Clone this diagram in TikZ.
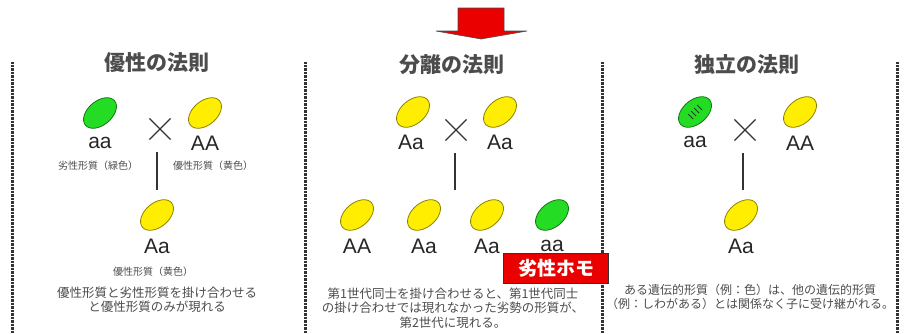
\documentclass[tikz,border=0pt]{standalone}
\usepackage{fontspec}
\setmainfont{Noto Sans CJK JP}
\setsansfont{Liberation Sans}
\usepackage{xcolor}
\usetikzlibrary{shapes.geometric, shapes.misc}

\definecolor{peagreen}{RGB}{35,220,35}
\definecolor{peagreenline}{RGB}{20,120,20}
\definecolor{peayellow}{RGB}{255,238,0}
\definecolor{peayellowline}{RGB}{140,130,0}
\definecolor{arrowred}{RGB}{235,0,0}

\tikzset{
  pea/.style={ellipse, minimum width=38pt, minimum height=24pt, inner sep=0pt, rotate=40, line width=0.8pt},
  greenpea/.style={pea, draw=peagreenline, fill=peagreen},
  yellowpea/.style={pea, draw=peayellowline, fill=peayellow},
  gtype/.style={font=\sffamily\fontsize{21}{21}\selectfont, text=black!85},
  lawtitle/.style={font=\bfseries\fontsize{21}{21}\selectfont, text=black!70},
  trait/.style={font=\fontsize{10}{12}\selectfont, text=black!70},
  caption/.style={font=\fontsize{12.5}{14.5}\selectfont, align=center, text=black!70},
  cross/.style={cross out, draw=black!80, minimum size=20pt, line width=1.1pt},
  stem/.style={black!80, line width=1.3pt},
  divider/.style={black!80, line width=3pt, dash pattern=on 0.8pt off 0.6pt}
}

\begin{document}
\begin{tikzpicture}[x=1pt, y=-1pt]
\useasboundingbox (0,0) rectangle (917,333);

% arrow on top
\draw[fill=arrowred, draw=black!70, line width=0.6pt]
  (458,8) -- (504,8) -- (504,31) -- (527,31) -- (481,39) -- (436,31) -- (458,31) -- cycle;

% dotted dividers
\foreach \x in {12, 305, 602, 897}
  \draw[divider] (\x,62) -- (\x,333);

% law of dominance
\node[lawtitle] (dom_t) at (157,63) {優性の法則};
\node[greenpea] (dom_p1) at (100,113) {};
\node[gtype] (dom_p1_l) at (100,143) {aa};
\node[yellowpea] (dom_p2) at (205,113) {};
\node[gtype] (dom_p2_l) at (205,143) {AA};
\node[cross] (dom_x) at (160,129) {};
\node[trait] (dom_rec) at (98,166) {劣性形質（緑色）};
\node[trait] (dom_dom) at (213,166) {優性形質（黄色）};
\coordinate (dom_s1) at (157,152);
\coordinate (dom_s2) at (157,190);
\draw[stem] (dom_s1) -- (dom_s2);
\node[yellowpea] (dom_c) at (157,215) {};
\node[gtype] (dom_c_l) at (157,246) {Aa};
\node[trait] (dom_c_t) at (153,272) {優性形質（黄色）};
\node[caption] (dom_txt) at (157,300) {優性形質と劣性形質を掛け合わせる\\と優性形質のみが現れる};

% law of segregation
\node[lawtitle] (seg_t) at (452,65) {分離の法則};
\node[yellowpea] (seg_p1) at (413,112) {};
\node[gtype] (seg_p1_l) at (411,142) {Aa};
\node[yellowpea] (seg_p2) at (500,112) {};
\node[gtype] (seg_p2_l) at (500,142) {Aa};
\node[cross] (seg_x) at (456,130) {};
\coordinate (seg_s1) at (455,153);
\coordinate (seg_s2) at (455,190);
\draw[stem] (seg_s1) -- (seg_s2);
\node[yellowpea] (seg_c1) at (357,215) {};
\node[gtype] (seg_c1_l) at (357,246) {AA};
\node[yellowpea] (seg_c2) at (424,215) {};
\node[gtype] (seg_c2_l) at (424,246) {Aa};
\node[yellowpea] (seg_c3) at (487,215) {};
\node[gtype] (seg_c3_l) at (487,246) {Aa};
\node[greenpea] (seg_c4) at (552,215) {};
\node[gtype] (seg_c4_l) at (552,246) {aa};
\node[draw=black!80, fill=arrowred, text=white, line width=0.8pt, minimum width=105pt, minimum height=30pt,
  font=\bfseries\fontsize{19}{19}\selectfont] (seg_homo) at (556,268) {劣性ホモ};
\node[caption] (seg_txt) at (453,308) {第1世代同士を掛け合わせると、第1世代同士\\の掛け合わせでは現れなかった劣勢の形質が、\\第2世代に現れる。};

% law of independent assortment
\node[lawtitle] (ind_t) at (747,65) {独立の法則};
\node[greenpea] (ind_p1) at (695,112) {};
% wrinkles
\foreach \d in {-4.5,-1.5,1.5,4.5}
  \draw[black!60!peagreenline, line width=0.7pt] ([xshift=\d pt, yshift=\d pt]ind_p1.center) ++(-2.5,-2.5) -- ++(5,5);
\node[gtype] (ind_p1_l) at (695,142) {aa};
\node[yellowpea] (ind_p2) at (800,112) {};
\node[gtype] (ind_p2_l) at (800,143) {AA};
\node[cross] (ind_x) at (745,130) {};
\coordinate (ind_s1) at (743,153);
\coordinate (ind_s2) at (743,190);
\draw[stem] (ind_s1) -- (ind_s2);
\node[yellowpea] (ind_c) at (741,215) {};
\node[gtype] (ind_c_l) at (741,246) {Aa};
\node[caption, font=\fontsize{12}{14.5}\selectfont] (ind_txt) at (750,297) {ある遺伝的形質（例：色）は、他の遺伝的形質\\（例：しわがある）とは関係なく子に受け継がれる。};
\end{tikzpicture}
\end{document}
